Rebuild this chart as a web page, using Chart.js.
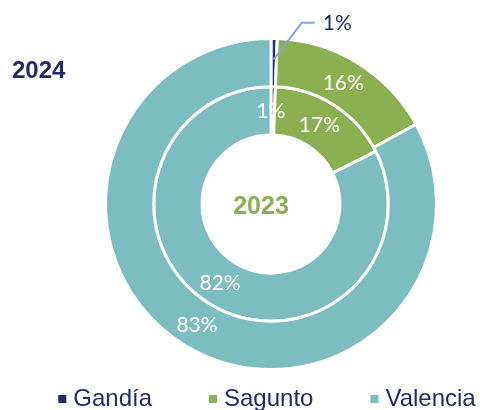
<!DOCTYPE html>
<html>
<head>
<meta charset="utf-8">
<script src="https://cdn.jsdelivr.net/npm/chart.js@4.4.1/dist/chart.umd.min.js"></script>
<style>
  html, body { margin: 0; padding: 0; background: #fff; }
</style>
</head>
<body>
<canvas id="chart" width="480" height="410"></canvas>
<script>
// Data
const ports = ["Gandía", "Sagunto", "Valencia"];
const share2024 = [0.6, 16.4, 83.0];
const share2023 = [0.6, 17.0, 82.4];
const years = ["2024", "2023"];
const portColors = ["#1c2b6e", "#8ab14f", "#7bbdc0"];

const navy = "#1f2a6e";

// Percentage labels on the slices
const sliceLabels = {
  id: "sliceLabels",
  afterDatasetsDraw(chart) {
    const ctx = chart.ctx;
    ctx.save();
    ctx.font = "21px Lato";
    ctx.textAlign = "center";
    ctx.textBaseline = "middle";
    chart.data.datasets.forEach((ds, di) => {
      const meta = chart.getDatasetMeta(di);
      meta.data.forEach((arc, i) => {
        const txt = Math.round(ds.data[i]) + "%";
        const p = arc.tooltipPosition();
        if (di === 0 && i === 0) {
          // outer small slice: label outside with leader line
          const r = (arc.innerRadius + arc.outerRadius) / 2 + 3;
          const a = (arc.startAngle + arc.endAngle) / 2;
          const sx = arc.x + Math.cos(a) * r;
          const sy = arc.y + Math.sin(a) * r;
          const ex = sx + 28, ey = sy - 37;
          ctx.strokeStyle = "#8d9fe2";
          ctx.lineWidth = 2;
          ctx.beginPath();
          ctx.moveTo(sx, sy);
          ctx.lineTo(ex, ey);
          ctx.lineTo(ex + 13, ey);
          ctx.stroke();
          ctx.fillStyle = navy;
          ctx.textAlign = "left";
          ctx.fillText(txt, ex + 21, ey + 1);
          ctx.textAlign = "center";
        } else {
          ctx.fillStyle = "#ffffff";
          ctx.fillText(txt, p.x - 2, p.y);
        }
      });
    });
    ctx.restore();
  }
};

// Year captions: outer ring year at left, inner ring year in the hole
const yearCaptions = {
  id: "yearCaptions",
  afterDraw(chart) {
    const ctx = chart.ctx;
    const arc = chart.getDatasetMeta(0).data[0];
    ctx.save();
    ctx.font = "bold 24px 'Liberation Sans'";
    ctx.textBaseline = "middle";
    ctx.fillStyle = navy;
    ctx.textAlign = "left";
    ctx.fillText(years[0], 12, 71);
    ctx.fillStyle = portColors[1];
    ctx.textAlign = "center";
    ctx.font = "bold 25px 'Liberation Sans'";
    ctx.fillText(years[1], arc.x - 10, arc.y + 3);
    ctx.restore();
  }
};

// Bottom legend
const bottomLegend = {
  id: "bottomLegend",
  afterDraw(chart) {
    const ctx = chart.ctx;
    ctx.save();
    ctx.font = "24px 'Liberation Sans'";
    ctx.textBaseline = "middle";
    ctx.textAlign = "left";
    const box = 8, gap = 7, spacing = 57;
    const widths = ports.map(p => box + gap + ctx.measureText(p).width);
    const total = widths.reduce((a, b) => a + b, 0) + spacing * (ports.length - 1);
    let x = 267 - total / 2;
    const y = 399;
    ports.forEach((p, i) => {
      ctx.fillStyle = portColors[i];
      ctx.fillRect(x, y - box / 2, box, box);
      ctx.fillStyle = navy;
      ctx.fillText(p, x + box + gap, y);
      x += widths[i] + spacing;
    });
    ctx.restore();
  }
};

const chart = document.querySelector("#chart").getContext("2d");

new Chart(chart, {
  type: "doughnut",
  data: {
    labels: ports,
    datasets: [
      {
        label: years[0],
        data: share2024,
        backgroundColor: portColors,
        borderColor: "#ffffff",
        borderWidth: 3,
      },
      {
        label: years[1],
        data: share2023,
        backgroundColor: portColors,
        borderColor: "#ffffff",
        borderWidth: 3,
      },
    ]
  },
  options: {
    responsive: false,
    animation: false,
    cutout: 69,
    layout: {
      padding: { left: 104, right: 42, top: 37, bottom: 39 }
    },
    plugins: {
      legend: { display: false },
      tooltip: { enabled: false },
    }
  },
  plugins: [sliceLabels, yearCaptions, bottomLegend]
});
</script>
</body>
</html>
